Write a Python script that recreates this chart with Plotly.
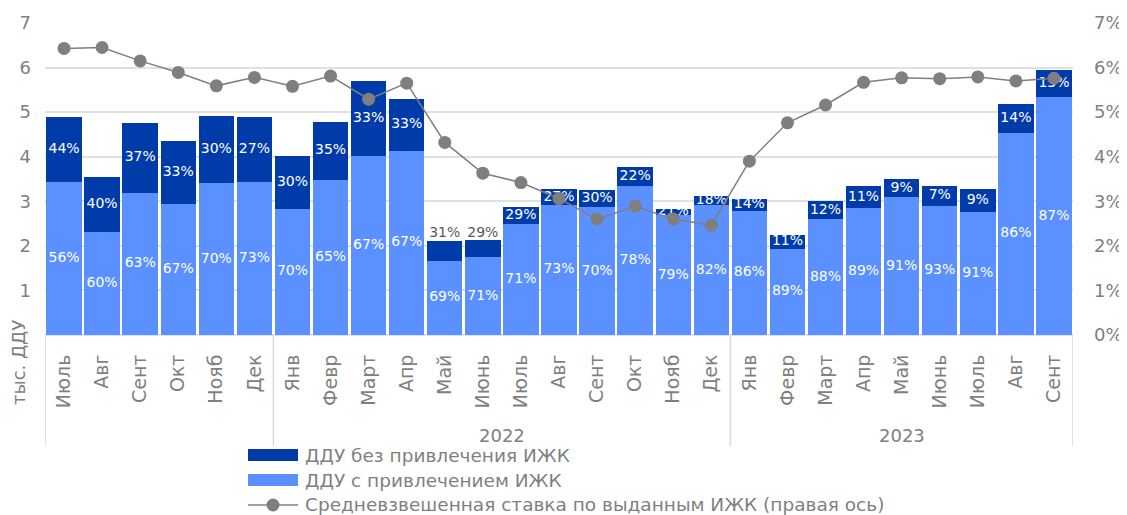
import plotly.graph_objects as go

months = ["Июль", "Авг", "Сент", "Окт", "Нояб", "Дек",
          "Янв", "Февр", "Март", "Апр", "Май", "Июнь", "Июль", "Авг", "Сент", "Окт", "Нояб", "Дек",
          "Янв", "Февр", "Март", "Апр", "Май", "Июнь", "Июль", "Авг", "Сент"]
year_labels = ["", "2022", "2023"]
year_sizes = [6, 12, 9]
left_ticks = [1, 2, 3, 4, 5, 6, 7]
right_ticks = [0, 1, 2, 3, 4, 5, 6, 7]
right_tick_labels = ["0%", "1%", "2%", "3%", "4%", "5%", "6%", "7%"]

# тыс. ДДУ
with_mortgage = [3.44, 2.32, 3.19, 2.94, 3.41, 3.44,
                 2.83, 3.48, 4.01, 4.13, 1.67, 1.74, 2.49, 2.92, 2.87, 3.34, 2.69, 2.91,
                 2.79, 1.94, 2.60, 2.85, 3.09, 2.89, 2.76, 4.54, 5.33]
totals = [4.89, 3.54, 4.76, 4.36, 4.92, 4.88,
          4.01, 4.78, 5.70, 5.30, 2.11, 2.13, 2.88, 3.27, 3.25, 3.77, 2.83, 3.12,
          3.06, 2.24, 3.00, 3.34, 3.49, 3.35, 3.27, 5.19, 5.94]
without_mortgage = [round(t - w, 2) for t, w in zip(totals, with_mortgage)]

share_with = [56, 60, 63, 67, 70, 73,
              70, 65, 67, 67, 69, 71, 71, 73, 70, 78, 79, 82,
              86, 89, 88, 89, 91, 93, 91, 86, 87]
share_without = [44, 40, 37, 33, 30, 27,
                 30, 35, 33, 33, 31, 29, 29, 27, 30, 22, 21, 18,
                 14, 11, 12, 11, 9, 7, 9, 14, 13]
labels_above_bar = [10, 11]  # indices whose top label sits above the bar

# %
rate = [6.43, 6.45, 6.15, 5.89, 5.59, 5.78,
        5.58, 5.81, 5.29, 5.65, 4.32, 3.63, 3.42, 3.06, 2.60, 2.89, 2.60, 2.46,
        3.90, 4.76, 5.16, 5.67, 5.77, 5.75, 5.79, 5.70, 5.76]

legend_names = ["ДДУ без привлечения ИЖК", "ДДУ с привлечением ИЖК",
                "Средневзвешенная ставка по выданным ИЖК (правая ось)"]

x = list(range(len(months)))
DARK = "#003BAA"
LIGHT = "#5A90FF"
GREY = "#7F7F7F"
FONT = "DejaVu Sans"

# the page body has an 8px margin; the figure is sized to fill the window
OFF = 8
W, H = 1127 - OFF, 515 - OFF
ML, MT = 45 - OFF, 23 - OFF
MR = W - (1073 - OFF)
MB = H - (335 - OFF)
PW, PH = W - ML - MR, H - MT - MB


def px(xs):
    """screen x (window pixels) -> paper x"""
    return (xs - OFF - ML) / PW


def py(ys):
    """screen y (window pixels) -> paper y"""
    return (H - MB - (ys - OFF)) / PH


fig = go.Figure()
fig.add_trace(go.Bar(
    x=x, y=with_mortgage, name=legend_names[1],
    marker=dict(color=LIGHT, line=dict(width=0)),
    showlegend=False, hoverinfo="skip",
))
fig.add_trace(go.Bar(
    x=x, y=without_mortgage, name=legend_names[0],
    marker=dict(color=DARK, line=dict(width=0)),
    showlegend=False, hoverinfo="skip",
))
fig.add_trace(go.Scatter(
    x=x, y=rate, yaxis="y2", mode="lines+markers",
    name=legend_names[2],
    line=dict(color=GREY, width=1.5), marker=dict(color=GREY, size=13),
    showlegend=False, hoverinfo="skip",
))

# data labels (drawn on top, at segment centres)
fig.add_trace(go.Scatter(
    x=x, y=[w / 2 for w in with_mortgage], mode="text",
    text=[f"{v}%" for v in share_with], textposition="middle center",
    textfont=dict(color="white", size=14, family=FONT),
    showlegend=False, hoverinfo="skip", cliponaxis=False,
))
inside_idx = [i for i in x if i not in labels_above_bar]
fig.add_trace(go.Scatter(
    x=inside_idx, y=[with_mortgage[i] + without_mortgage[i] / 2 for i in inside_idx],
    mode="text", text=[f"{share_without[i]}%" for i in inside_idx],
    textposition="middle center",
    textfont=dict(color="white", size=14, family=FONT),
    showlegend=False, hoverinfo="skip", cliponaxis=False,
))
fig.add_trace(go.Scatter(
    x=labels_above_bar, y=[totals[i] for i in labels_above_bar],
    mode="text", text=[f"{share_without[i]}%" for i in labels_above_bar],
    textposition="top center",
    textfont=dict(color="#595959", size=14, family=FONT),
    showlegend=False, hoverinfo="skip", cliponaxis=False,
))

shapes = []
annotations = []

# group separators and year labels
start = 0
bounds = [-0.5]
for lab, n in zip(year_labels, year_sizes):
    end = start + n
    bounds.append(end - 0.5)
    if lab:
        annotations.append(dict(x=(start + end - 1) / 2, y=py(435), xref="x", yref="paper",
                                xanchor="center", yanchor="middle",
                                text=lab, showarrow=False,
                                font=dict(size=18, color=GREY, family=FONT)))
    start = end
for b in bounds:
    shapes.append(dict(type="line", x0=b, x1=b, xref="x", y0=0, y1=py(446), yref="paper",
                       line=dict(color="#D9D9D9", width=1.5)))

annotations.append(dict(x=px(19), y=py(363), xref="paper", yref="paper", text="тыс. ДДУ",
                        xanchor="center", yanchor="middle",
                        textangle=-90, showarrow=False,
                        font=dict(size=18, color=GREY, family=FONT)))

# manual legend
rows = [455, 480, 505]
colors = [DARK, LIGHT, GREY]
for i, (name, yc, col) in enumerate(zip(legend_names, rows, colors)):
    if i < 2:
        shapes.append(dict(type="rect", xref="paper", yref="paper",
                           x0=px(248), x1=px(298), y0=py(yc + 6), y1=py(yc - 6),
                           fillcolor=col, line=dict(width=0)))
    else:
        shapes.append(dict(type="line", xref="paper", yref="paper",
                           x0=px(248), x1=px(298), y0=py(yc), y1=py(yc),
                           line=dict(color=col, width=1.5)))
        shapes.append(dict(type="circle", xref="paper", yref="paper",
                           x0=px(273 - 6.5), x1=px(273 + 6.5), y0=py(yc + 6.5), y1=py(yc - 6.5),
                           fillcolor=col, line=dict(width=0)))
    annotations.append(dict(x=px(303), y=py(yc), xref="paper", yref="paper",
                            xanchor="left", yanchor="middle", text=name, showarrow=False,
                            font=dict(size=18.5, color=GREY, family=FONT)))

fig.update_layout(
    width=W, height=H,
    margin=dict(l=ML, r=MR, t=MT, b=MB, autoexpand=False),
    paper_bgcolor="white", plot_bgcolor="white",
    barmode="stack", bargap=0.07,
    font=dict(family=FONT, color=GREY, size=17),
    showlegend=False,
    xaxis=dict(range=[-0.5, 26.5], tickmode="array", tickvals=x, ticktext=months,
               tickangle=-90, ticks="outside", ticklen=11, tickcolor="rgba(0,0,0,0)",
               showgrid=False, zeroline=False,
               tickfont=dict(size=19, color=GREY), showline=False),
    yaxis=dict(range=[0, 7], tickmode="array", tickvals=left_ticks,
               showgrid=True, gridcolor="#E0E0E0", gridwidth=1.5,
               zeroline=True, zerolinecolor="#E0E0E0", zerolinewidth=1.5,
               ticks="", tickfont=dict(size=18, color=GREY),
               ticklabelstandoff=13),
    yaxis2=dict(range=[0, 7], tickmode="array", tickvals=right_ticks,
                ticktext=right_tick_labels,
                overlaying="y", side="right", showgrid=False,
                zeroline=False, ticks="", tickfont=dict(size=18, color=GREY),
                ticklabelstandoff=20),
    shapes=shapes, annotations=annotations,
)

fig.write_html("out.html")
